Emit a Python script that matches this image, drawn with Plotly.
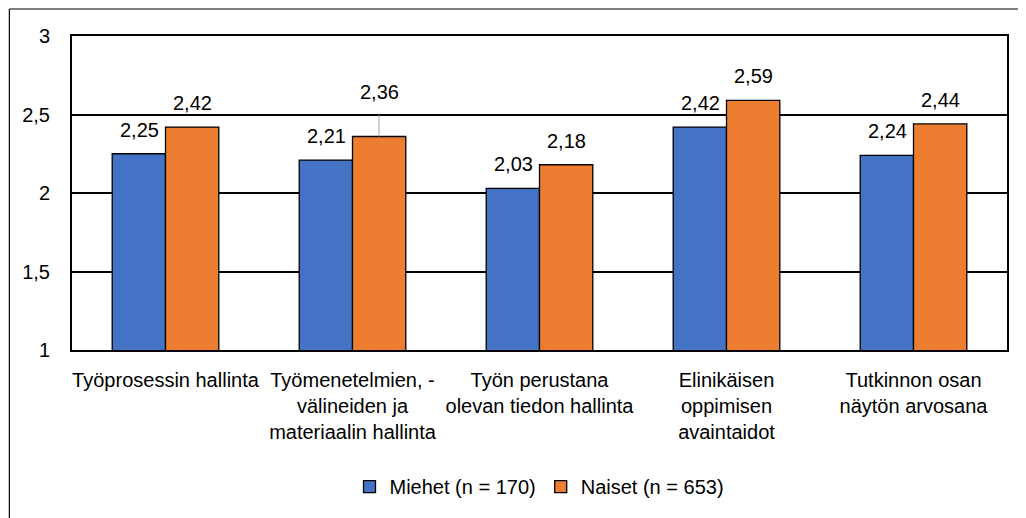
import plotly.graph_objects as go

# --- data ---
categories = [
    "Työprosessin hallinta",
    "Työmenetelmien, -<br>välineiden ja<br>materiaalin hallinta",
    "Työn perustana<br>olevan tiedon hallinta",
    "Elinikäisen<br>oppimisen<br>avaintaidot",
    "Tutkinnon osan<br>näytön arvosana",
]
miehet = [2.25, 2.21, 2.03, 2.42, 2.24]
naiset = [2.42, 2.36, 2.18, 2.59, 2.44]
series_names = ["Miehet (n = 170)", "Naiset (n = 653)"]
y_ticks = [1, 1.5, 2, 2.5, 3]

BLUE = "#4472C4"
ORANGE = "#ED7D31"
FONT = "Liberation Sans Narrow, Arial Narrow, Liberation Sans, Arial"
FS = 20      # axis + legend text
FS_LBL = 20  # value labels

fig = go.Figure()
for name, vals, col in [(series_names[0], miehet, BLUE), (series_names[1], naiset, ORANGE)]:
    fig.add_trace(go.Bar(
        x=categories, y=vals, name=name,
        marker=dict(color=col, line=dict(color="black", width=1.3)),
    ))

#--- value labels
ann = []
for i, cat in enumerate(categories):
    for vals, xs in [(miehet, -26.5), (naiset, 26.5)]:
        v = vals[i]
        txt = f"{v:.2f}".replace(".", ",")
        if vals is naiset and i == 1:
            # label pushed up with a leader line
            ann.append(dict(x=cat, y=v, xshift=xs, text=txt, showarrow=True,
                            ax=0, ay=-44, arrowhead=0, arrowwidth=1, arrowcolor="#A6A6A6",
                            startstandoff=10, font=dict(size=FS_LBL, color="black", family=FONT)))
        else:
            ann.append(dict(x=cat, y=v, xshift=xs, yshift=11, text=txt, showarrow=False,
                            yanchor="bottom", font=dict(size=FS_LBL, color="black", family=FONT)))

#--- outer frame (left + top edges)
frame = [
    dict(type="line", xref="paper", yref="paper", x0=-0.067, x1=1.03, y0=1.086, y1=1.086,
         line=dict(color="black", width=1.2)),
    dict(type="line", xref="paper", yref="paper", x0=-0.067, x1=-0.067, y0=1.086, y1=-0.6,
         line=dict(color="black", width=1.2)),
]

# page body has an 8px margin -> figure is a bit smaller and shifted
fig.update_layout(
    width=1018, height=510,
    margin=dict(l=64, r=19, t=28, b=168, autoexpand=False),
    plot_bgcolor="white", paper_bgcolor="white",
    barmode="group", bargap=0.43, bargroupgap=0,
    separators=",.",
    font=dict(family=FONT, size=FS, color="black"),
    annotations=ann,
    shapes=frame,
    legend=dict(orientation="h", x=0.5, xanchor="center", y=-0.435, yanchor="middle",
                font=dict(size=FS), itemwidth=30, traceorder="normal"),
)
fig.update_xaxes(showline=True, linecolor="black", linewidth=2, mirror=True,
                 tickfont=dict(size=FS), ticks="", automargin=False, ticklabelstandoff=11)
fig.update_yaxes(range=[1, 3], tickvals=y_ticks, showgrid=True, gridcolor="black", gridwidth=1.5,
                 showline=True, linecolor="black", linewidth=2, mirror=True, automargin=False,
                 zeroline=False, ticks="", ticklabelstandoff=16, tickformat=",.1~f")

fig.write_html("out.html")
